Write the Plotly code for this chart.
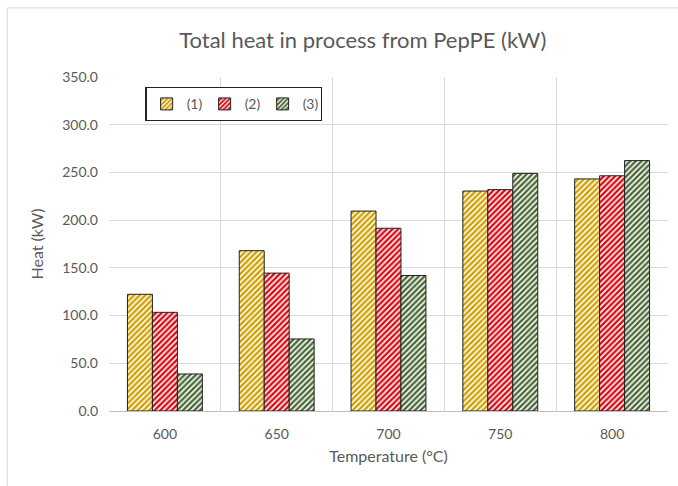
import plotly.graph_objects as go

categories = ["600", "650", "700", "750", "800"]
series_names = ["(1)", "(2)", "(3)"]
values_1 = [122.3, 168.0, 209.5, 230.5, 243.2]
values_2 = [103.4, 144.5, 191.5, 232.0, 246.5]
values_3 = [38.8, 75.5, 142.0, 249.0, 262.4]
colors = ["#D0A000", "#DC0A14", "#4A6836"]

font_family = "Lato, Open Sans, sans-serif"
fig = go.Figure()
for name, vals, col in zip(series_names, [values_1, values_2, values_3], colors):
    fig.add_trace(go.Bar(
        x=categories, y=vals, name=name,
        marker=dict(
            color="white",
            line=dict(color="#222222", width=1),
            pattern=dict(shape="/", fgcolor=col, bgcolor="white", size=4, solidity=0.6, fillmode="replace"),
        ),
    ))

fig.update_layout(
    width=678, height=486,
    paper_bgcolor="white", plot_bgcolor="white",
    margin=dict(l=109, r=10, t=77, b=75),
    barmode="group", bargap=0.33, bargroupgap=0,
    title=dict(text="Total heat in process from PepPE (kW)", x=0.535, xanchor="center", y=0.918, yanchor="middle",
               font=dict(family=font_family, size=22, color="#595959")),
    font=dict(family=font_family, size=14, color="#595959"),
    showlegend=True,
    legend=dict(orientation="h", x=0.065, y=0.97, xanchor="left", yanchor="top",
                bordercolor="#222222", borderwidth=1.3, bgcolor="white",
                font=dict(size=14, color="#595959"), itemwidth=30, entrywidth=13, traceorder="normal"),
    shapes=[
        dict(type="line", xref="paper", yref="paper", x0=-0.182, x1=1.1, y0=1.207, y1=1.207,
             line=dict(color="#D9D9D9", width=1)),
        dict(type="line", xref="paper", yref="paper", x0=-0.182, x1=-0.182, y0=1.207, y1=-0.3,
             line=dict(color="#D9D9D9", width=1)),
    ],
)
fig.update_xaxes(
    type="category", tickson="boundaries", showgrid=True, gridcolor="#D9D9D9", gridwidth=1,
    showline=True, linecolor="#BFBFBF", linewidth=1, ticks="", ticklabelstandoff=10,
    title=dict(text="Temperature (°C)", font=dict(size=16, color="#595959"), standoff=10),
    tickfont=dict(size=14, color="#595959"),
)
fig.update_yaxes(
    range=[0, 350], dtick=50, tickformat=".1f", showgrid=True, gridcolor="#D9D9D9", gridwidth=1,
    zeroline=False, ticks="", showline=False, ticklabelstandoff=10,
    title=dict(text="Heat (kW)", font=dict(size=16, color="#595959"), standoff=14),
    tickfont=dict(size=14, color="#595959"),
)
fig.write_html("out.html")
